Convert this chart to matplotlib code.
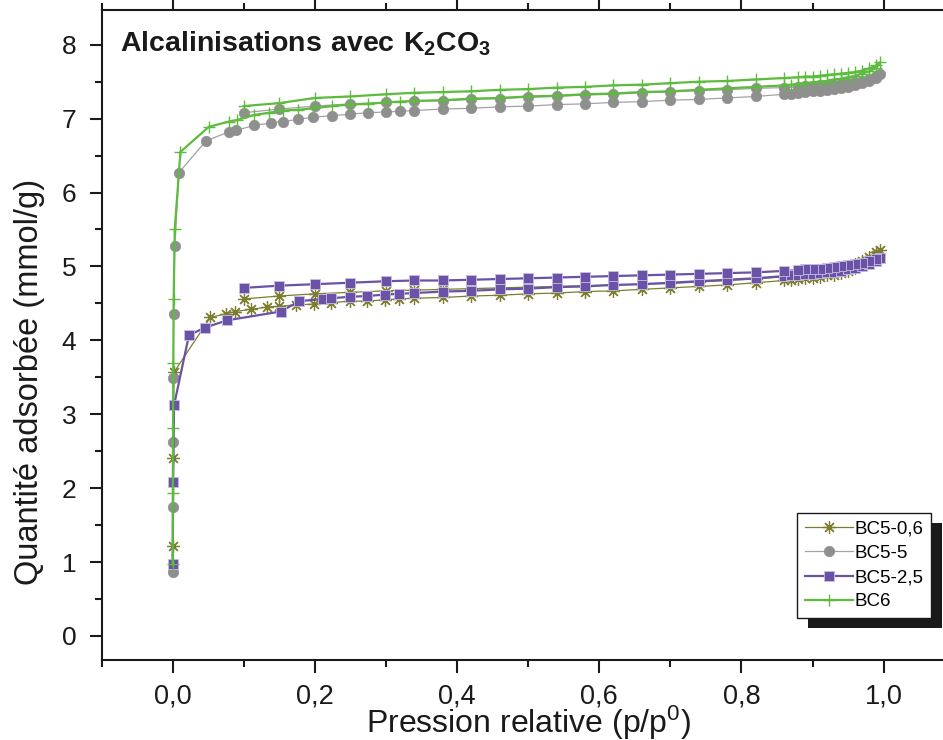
import matplotlib
matplotlib.use("Agg")
import matplotlib.pyplot as plt
from matplotlib.patches import Rectangle
from matplotlib.ticker import MultipleLocator, FuncFormatter
from matplotlib import font_manager

plt.rcParams['font.family'] = ['Liberation Sans', 'DejaVu Sans']
plt.rcParams['mathtext.fontset'] = 'custom'
plt.rcParams['mathtext.rm'] = 'Liberation Sans'
plt.rcParams['mathtext.bf'] = 'Liberation Sans:bold'
plt.rcParams['mathtext.default'] = 'regular'

installed = {f.name for f in font_manager.fontManager.ttflist}
NARROW = 'Liberation Sans Narrow' if 'Liberation Sans Narrow' in installed else 'Liberation Sans'

# ---------------- data: N2 isotherms (adsorption / desorption) ----------------
grid_mid = [0.38, 0.42, 0.46, 0.50, 0.54, 0.58, 0.62, 0.66, 0.70, 0.74, 0.78, 0.82, 0.86]
grid_high = [0.87, 0.88, 0.89, 0.90, 0.91, 0.92, 0.93, 0.94, 0.95, 0.96, 0.97, 0.98, 0.99, 0.995]
des_x = [0.99, 0.98, 0.97, 0.96, 0.95, 0.94, 0.93, 0.92, 0.91, 0.90, 0.89, 0.88,
         0.86, 0.82, 0.78, 0.74, 0.70, 0.66, 0.62, 0.58, 0.54, 0.50, 0.46, 0.42,
         0.38, 0.34, 0.30, 0.25, 0.20, 0.15, 0.10]

# BC5-0,6
bc506_ads_x = [0.0002, 0.0008, 0.002, 0.053, 0.075, 0.088, 0.110, 0.133, 0.150,
               0.173, 0.199, 0.223, 0.249, 0.273, 0.299, 0.318, 0.339] + grid_mid + grid_high
bc506_ads_y = [1.22, 2.41, 3.57, 4.31, 4.36, 4.39, 4.42, 4.45, 4.46, 4.48, 4.49,
               4.51, 4.53, 4.53, 4.55, 4.56, 4.57,
               4.58, 4.60, 4.61, 4.63, 4.64, 4.66, 4.67, 4.69, 4.71, 4.73, 4.75, 4.78, 4.81,
               4.82, 4.83, 4.84, 4.85, 4.86, 4.88, 4.89, 4.91, 4.94, 4.98, 5.03, 5.09, 5.16, 5.22]
bc506_des_y = [5.20, 5.13, 5.07, 5.03, 4.99, 4.96, 4.94, 4.93, 4.92, 4.91, 4.90, 4.89,
               4.86, 4.83, 4.81, 4.79, 4.77, 4.76, 4.75, 4.74, 4.73, 4.72, 4.71, 4.70,
               4.69, 4.68, 4.67, 4.65, 4.63, 4.60, 4.56]

# BC5-5
bc55_ads_x = [0.0001, 0.0003, 0.0006, 0.001, 0.0015, 0.003, 0.009, 0.047, 0.079, 0.089,
              0.115, 0.138, 0.155, 0.176, 0.198, 0.224, 0.249, 0.275, 0.300, 0.320,
              0.340] + grid_mid + grid_high
bc55_ads_y = [0.86, 1.74, 2.62, 3.49, 4.35, 5.28, 6.27, 6.70, 6.82, 6.84, 6.91, 6.94,
              6.96, 6.99, 7.02, 7.04, 7.06, 7.08, 7.09, 7.10, 7.11,
              7.13, 7.14, 7.16, 7.17, 7.19, 7.20, 7.22, 7.23, 7.25, 7.26, 7.28, 7.30, 7.33,
              7.34, 7.35, 7.36, 7.37, 7.38, 7.39, 7.40, 7.41, 7.43, 7.45, 7.48, 7.51, 7.55, 7.60]
bc55_des_y = [7.58, 7.54, 7.51, 7.49, 7.48, 7.47, 7.46, 7.45, 7.45, 7.44, 7.44, 7.43,
              7.42, 7.41, 7.39, 7.38, 7.36, 7.35, 7.33, 7.32, 7.30, 7.29, 7.27, 7.26,
              7.24, 7.24, 7.22, 7.20, 7.17, 7.13, 7.08]

# BC5-2,5
bc525_ads_x = [0.0002, 0.0008, 0.002, 0.023, 0.045, 0.076, 0.152, 0.178, 0.211, 0.223,
               0.250, 0.274, 0.299, 0.319, 0.339] + grid_mid + grid_high
bc525_ads_y = [0.97, 2.08, 3.12, 4.07, 4.17, 4.27, 4.39, 4.53, 4.56, 4.57, 4.59, 4.60,
               4.62, 4.63, 4.64,
               4.66, 4.67, 4.69, 4.70, 4.72, 4.73, 4.75, 4.76, 4.78, 4.80, 4.82, 4.84, 4.87,
               4.88, 4.89, 4.90, 4.90, 4.91, 4.92, 4.93, 4.94, 4.96, 4.98, 5.00, 5.03, 5.07, 5.12]
bc525_des_y = [5.10, 5.07, 5.05, 5.03, 5.02, 5.00, 4.99, 4.98, 4.97, 4.96, 4.96, 4.95,
               4.94, 4.92, 4.91, 4.90, 4.89, 4.88, 4.87, 4.86, 4.85, 4.84, 4.83, 4.82,
               4.81, 4.81, 4.80, 4.78, 4.76, 4.74, 4.71]

# BC6
bc6_ads_x = [0.0001, 0.0003, 0.0006, 0.001, 0.0015, 0.003, 0.011, 0.051, 0.079, 0.090,
             0.115, 0.136, 0.155, 0.176, 0.198, 0.224, 0.249, 0.275, 0.300, 0.320,
             0.340] + grid_mid + grid_high
bc6_ads_y = [0.97, 1.94, 2.82, 3.70, 4.56, 5.50, 6.55, 6.89, 6.96, 6.98, 7.05, 7.08,
             7.11, 7.12, 7.14, 7.17, 7.19, 7.20, 7.22, 7.23, 7.24,
             7.25, 7.27, 7.28, 7.30, 7.31, 7.33, 7.34, 7.36, 7.37, 7.39, 7.41, 7.43, 7.45,
             7.46, 7.47, 7.48, 7.49, 7.50, 7.51, 7.53, 7.54, 7.56, 7.58, 7.61, 7.64, 7.69, 7.76]
bc6_des_y = [7.72, 7.68, 7.65, 7.63, 7.62, 7.61, 7.60, 7.59, 7.58, 7.57, 7.57, 7.56,
             7.55, 7.53, 7.51, 7.50, 7.48, 7.46, 7.45, 7.43, 7.42, 7.40, 7.39, 7.37,
             7.36, 7.35, 7.33, 7.30, 7.28, 7.21, 7.17]

labels = ["BC5-0,6", "BC5-5", "BC5-2,5", "BC6"]

# ---------------- figure ----------------
fig = plt.figure(figsize=(9.43, 7.40), dpi=100)
ax = fig.add_axes([101.5 / 943, 80 / 740, 853.2 / 943, 650 / 740])

series = [
    (bc506_ads_x, bc506_ads_y, bc506_des_y,
     dict(color='#7d7d2e', lw=0.9, marker=(8, 2, 0), ms=9, mew=0.9, mec='#7d7d2e', mfc='#7d7d2e')),
    (bc55_ads_x, bc55_ads_y, bc55_des_y,
     dict(color='#a3a3a3', lw=0.9, marker='o', ms=7.5, mec='#8f8f8f', mfc='#8f8f8f', mew=0.5)),
    (bc525_ads_x, bc525_ads_y, bc525_des_y,
     dict(color='#6a52a6', lw=1.6, marker='s', ms=7.2, mec='#c9bfe3', mfc='#6a52a6', mew=0.6)),
    (bc6_ads_x, bc6_ads_y, bc6_des_y,
     dict(color='#5dbb3e', lw=1.6, marker='+', ms=9, mew=1.0, mec='#5dbb3e')),
]

handles = []
for (ax_x, ax_y, d_y, style), lab in zip(series, labels):
    xs = list(ax_x) + des_x
    ys = list(ax_y) + list(d_y)
    h, = ax.plot(xs, ys, label=lab, clip_on=False, **style)
    handles.append(h)

ax.set_xlim(-0.1, 1.1)
ax.set_ylim(-0.325, 8.47)

ax.xaxis.set_major_locator(MultipleLocator(0.2))
ax.xaxis.set_minor_locator(MultipleLocator(0.1))
ax.yaxis.set_major_locator(MultipleLocator(1))
ax.yaxis.set_minor_locator(MultipleLocator(0.5))
ax.xaxis.set_major_formatter(FuncFormatter(lambda v, p: f"{v:.1f}".replace('.', ',').replace('-0,0', '0,0')))
ax.yaxis.set_major_formatter(FuncFormatter(lambda v, p: f"{v:.0f}"))

for s in ['left', 'bottom', 'top']:
    ax.spines[s].set_linewidth(1.5)
    ax.spines[s].set_color('#1a1a1a')
ax.spines['right'].set_visible(False)

ax.tick_params(axis='both', which='major', direction='out', length=9, width=1.5,
               colors='#1a1a1a')
ax.tick_params(axis='both', which='minor', direction='out', length=5, width=1.5, colors='#1a1a1a')
ax.tick_params(axis='x', which='both', top=True, labeltop=False)
ax.tick_params(axis='y', which='major', labelsize=19, pad=9)
ax.tick_params(axis='x', which='major', labelsize=19.5, pad=8)
for t in ax.get_xticklabels():
    t.set_fontfamily([NARROW, 'Liberation Sans'])

ax.set_xlabel(r'Pression relative (p/p$^0$)', fontsize=23, color='#1a1a1a')
ax.xaxis.label.set_verticalalignment('baseline')
# baseline of the x title sits ~73 px below the bottom spine
ax.xaxis.set_label_coords(0.5, -73 / 650)
ax.set_ylabel('Quantité adsorbée (mmol/g)', fontsize=23.5, color='#1a1a1a')
ax.yaxis.set_label_coords(-0.066, 0.428)

ax.text(120 / 943, 1 - 51 / 740, r'$\mathbf{Alcalinisations\ avec\ K_2CO_3}$',
        transform=fig.transFigure, fontsize=20.5, color='#1a1a1a', va='baseline', ha='left')

leg = ax.legend(handles=handles, loc='upper left',
                bbox_to_anchor=(797 / 943, 1 - 513 / 740), bbox_transform=fig.transFigure,
                fontsize=13.5, frameon=True, fancybox=False, framealpha=1,
                edgecolor='#1a1a1a', borderpad=0.4, borderaxespad=0,
                handlelength=2.6, handletextpad=0.05, labelspacing=0.38)
leg.get_frame().set_linewidth(1.0)
leg.set_zorder(10)

# solid drop shadow behind the legend box
fig.canvas.draw()
bb = leg.get_window_extent()
shadow = Rectangle((bb.x0 + 11, bb.y0 - 10), bb.width, bb.height, transform=None,
                   facecolor='#1a1a1a', edgecolor='none', zorder=9, clip_on=False)
ax.add_artist(shadow)

fig.savefig('out.png', dpi=100)
